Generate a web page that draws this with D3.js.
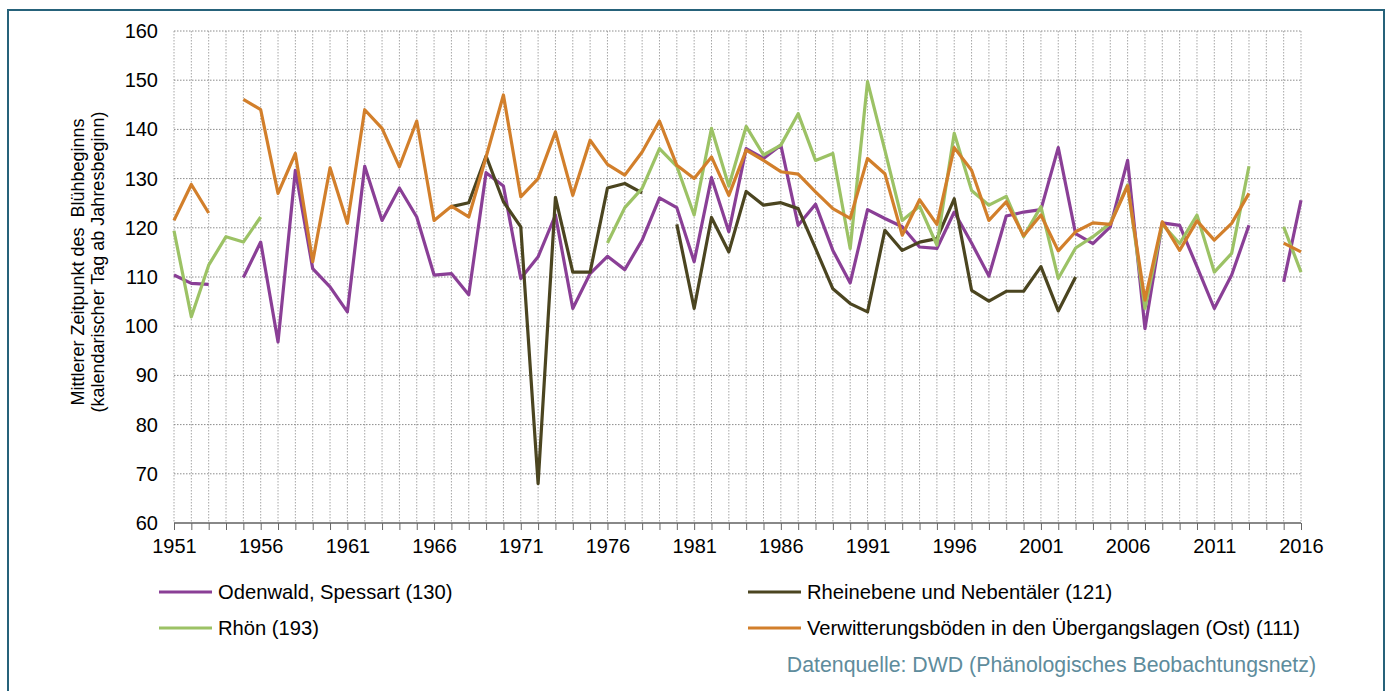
<!DOCTYPE html>
<html>
<head>
<meta charset="utf-8">
<script src="https://cdn.jsdelivr.net/npm/d3@7"></script>
<style>
  body { margin: 0; background: #fff; }
  svg { display: block; font-family: "Liberation Sans", Arial, sans-serif; }
</style>
</head>
<body>
<svg id="chart" width="1389" height="691"></svg>
<script>
const years = d3.range(1951, 2017);
const tickLabels = [1951, 1956, 1961, 1966, 1971, 1976, 1981, 1986, 1991, 1996, 2001, 2006, 2011, 2016];
const yTicks = [60, 70, 80, 90, 100, 110, 120, 130, 140, 150, 160];

const odenwald = [110.4,108.7,108.5,null,109.9,117.1,96.8,131.7,111.7,108.0,102.9,132.5,121.5,128.1,122.2,110.4,110.7,106.4,131.2,128.5,109.7,114.1,122.6,103.6,110.7,114.2,111.5,117.5,126.1,124.1,113.1,130.2,119.2,136.1,134.1,136.8,120.5,124.8,115.4,108.8,123.7,121.9,120.2,116.1,115.8,123.2,116.9,110.2,122.4,123.2,123.7,136.3,118.8,116.8,120.2,133.7,99.5,121.0,120.5,112.1,103.6,110.4,120.5,null,109.0,125.6];

const rheinebene = [null,null,null,null,null,null,null,null,null,null,null,null,null,null,null,null,124.3,125.1,134.6,125.3,120.2,68.0,126.2,111.0,111.0,128.1,129.0,127.1,null,120.7,103.6,122.1,115.1,127.4,124.6,125.1,123.9,115.8,107.6,104.6,102.9,119.5,115.4,117.1,117.8,125.9,107.3,105.1,107.1,107.1,112.1,103.1,110.0,null,null,null,null,null,null,null,null,null,null,null,null,null];

const rhoen = [119.4,101.9,112.4,118.2,117.1,122.2,null,null,null,null,null,null,null,null,null,null,null,null,null,null,null,null,null,null,null,116.9,124.1,128.0,136.1,132.5,122.6,140.2,128.5,140.6,134.8,136.8,143.2,133.7,135.1,115.8,149.7,135.8,121.5,124.4,116.5,139.2,127.6,124.6,126.4,118.2,124.3,109.7,115.9,118.2,120.9,128.7,103.6,120.7,116.8,122.6,111.0,114.8,132.5,null,120.2,111.0];

const verwitterung = [121.5,128.8,123.0,null,146.1,144.0,127.0,135.1,113.1,132.2,120.9,144.0,140.2,132.4,141.7,121.5,124.4,122.2,134.4,147.0,126.3,130.0,139.5,126.6,137.8,132.9,130.7,135.4,141.7,132.7,130.0,134.4,126.6,135.8,133.7,131.4,130.9,127.3,123.9,121.9,134.1,131.0,118.5,125.7,120.7,136.3,131.7,121.5,125.3,118.4,122.6,115.3,119.2,121.0,120.7,128.5,105.3,121.2,115.4,121.4,117.5,120.9,127.0,null,116.9,115.1];

const seriesNames = ["Odenwald, Spessart (130)", "Rheinebene und Nebentäler (121)", "Rhön (193)", "Verwitterungsböden in den Übergangslagen (Ost) (111)"];
const seriesValues = [odenwald, rheinebene, rhoen, verwitterung];
const seriesColors = ["#8A3F96", "#4B4520", "#9CC265", "#D27F2B"];

const svg = d3.select("#chart");

// frame
svg.append("rect").attr("x", 8).attr("y", 10).attr("width", 1376).attr("height", 700)
  .attr("fill", "#fff").attr("stroke", "#26627A").attr("stroke-width", 2);

const pL = 174, pR = 1301, pT = 31, pB = 523;
const x = d3.scaleLinear().domain([1951, 2016]).range([pL, pR]);
const y = d3.scaleLinear().domain([60, 160]).range([pB, pT]);

// gridlines
const grid = svg.append("g");
grid.selectAll("line.v").data(years).enter().append("line").attr("class", "v")
  .attr("x1", d => x(d)).attr("x2", d => x(d)).attr("y1", pT).attr("y2", pB)
  .attr("stroke", "#a6a6a6").attr("stroke-width", 1).attr("stroke-dasharray", "1.5,1.5");
grid.selectAll("line.h").data(yTicks.filter(d => d > 60)).enter().append("line").attr("class", "h")
  .attr("x1", pL).attr("x2", pR).attr("y1", d => y(d)).attr("y2", d => y(d))
  .attr("stroke", "#8c8c8c").attr("stroke-width", 1).attr("stroke-dasharray", "1.5,1.5");

// y axis labels
const yAxis = d3.axisLeft(y).tickValues(yTicks).tickSize(0).tickPadding(16);
const yg = svg.append("g").attr("transform", `translate(${pL},0)`).call(yAxis);
yg.select(".domain").remove();
yg.selectAll("text").attr("font-size", 20).attr("fill", "#000").attr("font-family", "Liberation Sans, Arial, sans-serif");

// x axis
const xAxis = d3.axisBottom(x).tickValues(years).tickSize(7).tickFormat(d => tickLabels.includes(d) ? d : "");
const xg = svg.append("g").attr("transform", `translate(0,${pB})`).call(xAxis);
xg.select(".domain").attr("stroke", "#888").attr("stroke-width", 2).attr("d", `M${pL},0H${pR}`);
xg.selectAll(".tick line").attr("stroke", "#666");
xg.selectAll("text").attr("font-size", 20).attr("fill", "#000").attr("y", 12).attr("dy", "0.9em").attr("font-family", "Liberation Sans, Arial, sans-serif");

// axis title
const tt = svg.append("text").attr("transform", "translate(88,262) rotate(-90)")
  .attr("text-anchor", "middle").attr("font-size", 18).attr("fill", "#000");
tt.append("tspan").attr("x", 0).attr("dy", "-0.25em").text("Mittlerer Zeitpunkt des  Blühbeginns").style("white-space", "pre");
tt.append("tspan").attr("x", 0).attr("dy", "1.15em").text("(kalendarischer Tag ab Jahresbeginn)");

// lines
const line = d3.line().defined(d => d.v != null).x(d => x(d.year)).y(d => y(d.v));
seriesValues.forEach((vals, i) => {
  const data = years.map((yr, j) => ({ year: yr, v: vals[j] }));
  svg.append("path").datum(data).attr("d", line).attr("fill", "none")
    .attr("stroke", seriesColors[i]).attr("stroke-width", 3.2).attr("stroke-linejoin", "round");
});

// legend
const legendPos = [[159, 592], [748, 592], [159, 628], [748, 628]];
seriesNames.forEach((name, i) => {
  const [lx, ly] = legendPos[i];
  svg.append("line").attr("x1", lx).attr("x2", lx + 53).attr("y1", ly).attr("y2", ly)
    .attr("stroke", seriesColors[i]).attr("stroke-width", 3.2);
  svg.append("text").attr("x", lx + 59).attr("y", ly).attr("dy", "0.35em")
    .attr("font-size", 20.2).attr("fill", "#000").text(name);
});

// source
svg.append("text").attr("x", 1316).attr("y", 665).attr("dy", "0.35em").attr("text-anchor", "end")
  .attr("font-size", 21.3).attr("fill", "#5E8C9C").text("Datenquelle: DWD (Phänologisches Beobachtungsnetz)");
</script>
</body>
</html>
